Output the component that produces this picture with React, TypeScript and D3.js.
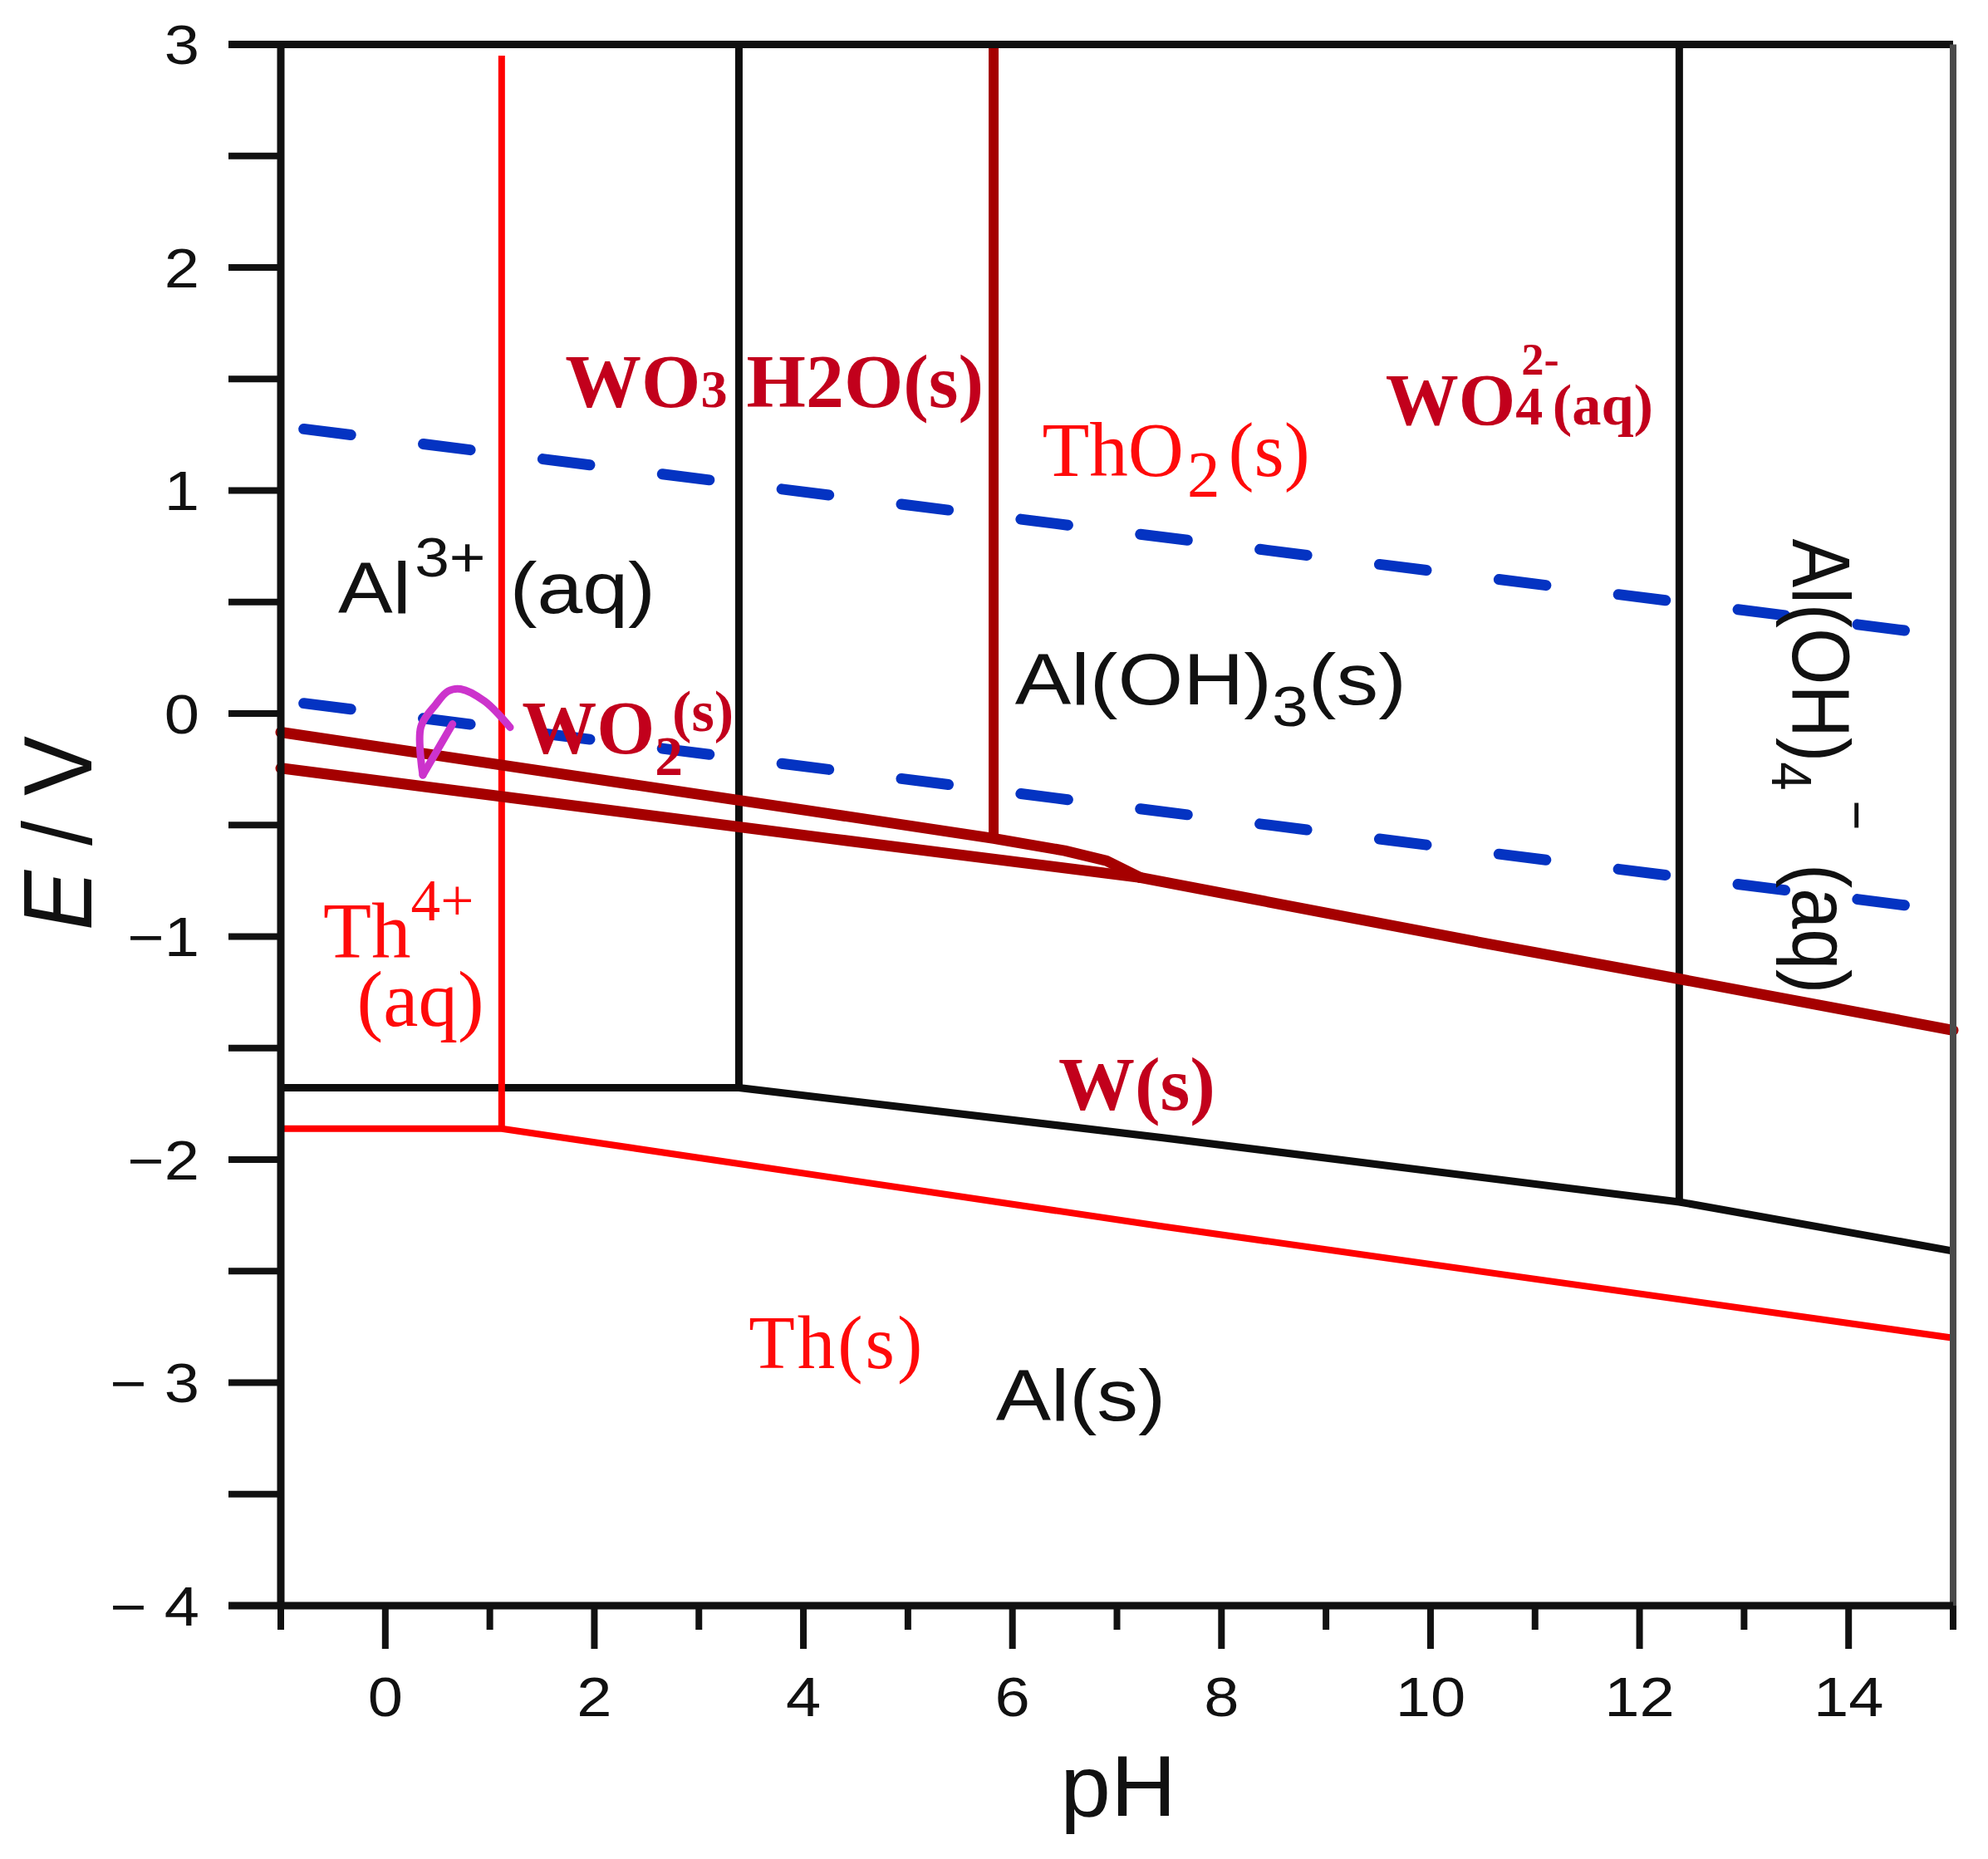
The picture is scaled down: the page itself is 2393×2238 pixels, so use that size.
import React from "react";
import * as d3 from "d3";

const WIDTH = 2393;
const HEIGHT = 2238;

type Pt = [number, number];

// ---------- axes ----------
const phDomain: [number, number] = [-1, 15];
const eDomain: [number, number] = [-4, 3];
const phMajorTicks = [0, 2, 4, 6, 8, 10, 12, 14];
const phTickLabels = ["0", "2", "4", "6", "8", "10", "12", "14"];
const phMinorTicks = [-1, 1, 3, 5, 7, 9, 11, 13, 15];
const eMajorTicks = [-4, -3, -2, -1, 0, 1, 2, 3];
const eTickLabels = ["\u2212 4", "\u2212 3", "\u22122", "\u22121", "0", "1", "2", "3"];
const eMinorTicks = [-3.5, -2.5, -1.5, -0.5, 0.5, 1.5, 2.5];

// ---------- water stability lines (blue dashed) ----------
const waterO2: Pt[] = [[-0.78, 1.276], [15, 0.345]];
const waterH2: Pt[] = [[-0.78, 0.046], [15, -0.887]];

// ---------- Al boundaries (black) ----------
const alAqToHydroxide: Pt[] = [[3.383, 3], [3.383, -1.678]];
const alHydroxideToAluminate: Pt[] = [[12.38, 3], [12.38, -2.19]];
const alMetalBoundary: Pt[] = [[-1, -1.678], [3.383, -1.678], [7.44, -1.902], [12.38, -2.19], [15, -2.41]];

// ---------- Th boundaries (red) ----------
const thAqToOxide: Pt[] = [[1.113, 2.95], [1.113, -1.861]];
const thMetalBoundary: Pt[] = [[-1, -1.861], [1.113, -1.861], [7.44, -2.3], [15, -2.8]];

// ---------- W boundaries (dark red) ----------
const wTrioxideToTungstate: Pt[] = [[5.82, 3], [5.82, -0.56]];
const wOxideUpper: Pt[] = [[-1, -0.084], [4.26, -0.45], [5.82, -0.56], [6.5, -0.615], [6.9, -0.66], [7.22, -0.735]];
const wOxideLower: Pt[] = [[-1, -0.245], [4.26, -0.561], [7.22, -0.735]];
const wMetalBoundary: Pt[] = [[7.22, -0.735], [10.63, -1.04], [12.38, -1.19], [15, -1.42]];

// ---------- hand-drawn magenta arrow ----------
const arrowStroke: Pt[] = [[1.194, -0.062], [0.95, 0.055], [0.72, 0.11], [0.6, 0.1], [0.484, 0.041], [0.34, -0.06], [0.359, -0.276]];
const arrowBarb: Pt[] = [[0.643, -0.047], [0.359, -0.276]];

// ---------- labels ----------
type Piece = { t: string; scale?: number; dy?: number; dx?: number; italic?: boolean };
type Label = {
  pH: number;
  E: number;
  pieces: Piece[];
  font: "sans" | "serif";
  size: number;
  bold?: boolean;
  color: string;
  sx?: number;
  rotate?: number;
  spacing?: number;
};

const DARK_RED_TEXT = "#c2001c";
const RED_TEXT = "#ff0a0a";
const BLACK_TEXT = "#111111";

const regionLabels: Label[] = [
  { pH: 1.721, E: 1.374, font: "serif", size: 90, bold: true, color: DARK_RED_TEXT, sx: 1.02,
    pieces: [{ t: "WO" }, { t: "3", scale: 0.7 }, { t: " H2O(s)" }] },
  { pH: 6.285, E: 1.064, font: "serif", size: 93, color: RED_TEXT,
    pieces: [{ t: "ThO" }, { t: "2", scale: 0.85, dy: 0.25, dx: 4 }, { t: "(s)", dy: 0, dx: 10 }] },
  { pH: 9.57, E: 1.297, font: "serif", size: 88, bold: true, color: DARK_RED_TEXT,
    pieces: [{ t: "WO" }, { t: "4", scale: 0.75 }, { t: "2-", scale: 0.62, dy: -0.68, dx: -26 }, { t: "(aq)", scale: 0.8, dy: 0, dx: -8 }] },
  { pH: 1.307, E: -0.177, font: "serif", size: 90, bold: true, color: DARK_RED_TEXT,
    pieces: [{ t: "WO" }, { t: "2", scale: 0.75, dy: 0.29 }, { t: "(s)", scale: 0.78, dy: -0.3, dx: -13 }] },
  { pH: -0.594, E: -1.094, font: "serif", size: 95, color: RED_TEXT,
    pieces: [{ t: "Th" }, { t: "4+", scale: 0.75, dy: -0.47 }] },
  { pH: -0.272, E: -1.4, font: "serif", size: 95, color: RED_TEXT,
    pieces: [{ t: "(aq)" }] },
  { pH: 6.439, E: -1.778, font: "serif", size: 92, bold: true, color: DARK_RED_TEXT,
    pieces: [{ t: "W(s)" }] },
  { pH: 3.476, E: -2.933, font: "serif", size: 91, color: RED_TEXT, spacing: 3,
    pieces: [{ t: "Th(s)" }] },
  { pH: -0.451, E: 0.451, font: "sans", size: 88, color: BLACK_TEXT, sx: 1.12,
    pieces: [{ t: "Al" }, { t: "3+", scale: 0.76, dy: -0.5, dx: 4 }, { t: "(aq)", dy: 0, dx: 26 }] },
  { pH: 6.025, E: 0.042, font: "sans", size: 88, color: BLACK_TEXT, sx: 1.15,
    pieces: [{ t: "Al(OH)" }, { t: "3", scale: 0.78, dy: 0.3 }, { t: "(s)", dy: 0 }] },
  { pH: 5.842, E: -3.168, font: "sans", size: 88, color: BLACK_TEXT, sx: 1.13,
    pieces: [{ t: "Al(s)" }] },
  { pH: 13.464, E: 0.784, font: "sans", size: 88, color: BLACK_TEXT, sx: 1.12, rotate: 90,
    pieces: [{ t: "Al(OH)" }, { t: "4", scale: 0.7, dy: 0.25 }, { t: "\u2212", scale: 0.7, dy: -0.55, dx: 12 }, { t: " (aq)", dy: 0, dx: 16 }] },
];

const SANS = "'Liberation Sans', Arial, Helvetica, sans-serif";
const SERIF = "'Liberation Serif', 'Times New Roman', serif";

function RichText({ x, y, label }: { x: number; y: number; label: Label }) {
  let cur = 0;
  const sx = label.sx ?? 1;
  const rot = label.rotate ?? 0;
  return (
    <text
      transform={`translate(${x},${y}) scale(${sx},1) rotate(${rot})`}
      fontFamily={label.font === "sans" ? SANS : SERIF}
      fontWeight={label.bold ? "bold" : "normal"}
      fontSize={label.size}
      fill={label.color}
      letterSpacing={label.spacing ?? 0}
      style={{ whiteSpace: "pre" }}
    >
      {label.pieces.map((p, i) => {
        const target = p.dy ?? cur;
        const d = (target - cur) * label.size;
        cur = target;
        return (
          <tspan key={i} dx={p.dx ?? 0} dy={d} fontSize={label.size * (p.scale ?? 1)} fontStyle={p.italic ? "italic" : undefined}>
            {p.t}
          </tspan>
        );
      })}
    </text>
  );
}

export default function App() {
  const x = d3.scaleLinear().domain(phDomain).range([338, 2351]);
  const y = d3.scaleLinear().domain(eDomain).range([1933, 53.5]);
  const line = d3.line<Pt>().x((d) => x(d[0])).y((d) => y(d[1]));
  const curve = d3
    .line<Pt>()
    .x((d) => x(d[0]))
    .y((d) => y(d[1]))
    .curve(d3.curveCatmullRom.alpha(0.5));

  const axisColor = "#111";
  const x0 = x(phDomain[0]);
  const x1 = x(phDomain[1]);
  const yTop = y(eDomain[1]);
  const yBot = y(eDomain[0]);
  const yTickLen = 63;

  return (
    <div style={{ position: "absolute", left: 0, top: 0, width: WIDTH, height: HEIGHT, background: "#fff" }}>
      <svg width={WIDTH} height={HEIGHT} viewBox={`0 0 ${WIDTH} ${HEIGHT}`}>
        <rect x={0} y={0} width={WIDTH} height={HEIGHT} fill="#fff" />

        {/* water lines */}
        {[waterO2, waterH2].map((d, i) => (
          <path key={"w" + i} d={line(d) ?? ""} fill="none" stroke="#0433c2" strokeWidth={13}
            strokeDasharray="57 88" strokeLinecap="round" />
        ))}

        {/* Al boundaries */}
        {[alAqToHydroxide, alHydroxideToAluminate, alMetalBoundary].map((d, i) => (
          <path key={"al" + i} d={line(d) ?? ""} fill="none" stroke="#0d0d0d" strokeWidth={9} strokeLinejoin="round" />
        ))}

        {/* Th boundaries */}
        {[thAqToOxide, thMetalBoundary].map((d, i) => (
          <path key={"th" + i} d={line(d) ?? ""} fill="none" stroke="#ff0000" strokeWidth={8} strokeLinejoin="miter" />
        ))}

        {/* W boundaries */}
        <path d={line(wTrioxideToTungstate) ?? ""} fill="none" stroke="#a50000" strokeWidth={12} />
        {[wOxideUpper, wOxideLower, wMetalBoundary].map((d, i) => (
          <path key={"wb" + i} d={line(d) ?? ""} fill="none" stroke="#a50000" strokeWidth={13} strokeLinecap="round" strokeLinejoin="round" />
        ))}

        {/* magenta arrow */}
        <path d={curve(arrowStroke) ?? ""} fill="none" stroke="#cc33cc" strokeWidth={9} strokeLinecap="round" strokeLinejoin="round" />
        <path d={line(arrowBarb) ?? ""} fill="none" stroke="#cc33cc" strokeWidth={9} strokeLinecap="round" />

        {/* frame */}
        <line x1={x0 - yTickLen} x2={x1} y1={yTop} y2={yTop} stroke={axisColor} strokeWidth={9} />
        <line x1={x1} x2={x1} y1={yTop} y2={yBot} stroke="#4a4a4a" strokeWidth={8} />
        <line x1={x0} x2={x0} y1={yTop} y2={yBot} stroke={axisColor} strokeWidth={9} />
        <line x1={x0 - yTickLen} x2={x1} y1={yBot} y2={yBot} stroke={axisColor} strokeWidth={9} />

        {/* y ticks */}
        {eMajorTicks.map((t) => (
          <line key={"ey" + t} x1={x0 - yTickLen} x2={x0} y1={y(t)} y2={y(t)} stroke={axisColor} strokeWidth={8} />
        ))}
        {eMinorTicks.map((t) => (
          <line key={"eym" + t} x1={x0 - yTickLen} x2={x0} y1={y(t)} y2={y(t)} stroke={axisColor} strokeWidth={8} />
        ))}
        {eMajorTicks.map((t, i) => (
          <text key={"eyl" + t} transform={`translate(240,${y(t) + 23.5}) scale(1.15,1)`} textAnchor="end"
            fontFamily={SANS} fontSize={66} fill="#111" style={{ whiteSpace: "pre" }}>
            {eTickLabels[i]}
          </text>
        ))}

        {/* x ticks */}
        {phMajorTicks.map((t) => (
          <line key={"px" + t} x1={x(t)} x2={x(t)} y1={yBot} y2={yBot + 52} stroke={axisColor} strokeWidth={8} />
        ))}
        {phMinorTicks.map((t) => (
          <line key={"pxm" + t} x1={x(t)} x2={x(t)} y1={yBot} y2={yBot + 29} stroke={axisColor} strokeWidth={8} />
        ))}
        {phMajorTicks.map((t, i) => (
          <text key={"pxl" + t} transform={`translate(${x(t)},2066) scale(1.15,1)`} textAnchor="middle"
            fontFamily={SANS} fontSize={66} fill="#111">
            {phTickLabels[i]}
          </text>
        ))}

        {/* axis titles */}
        <text transform={`translate(1346,2186) scale(1.05,1)`} textAnchor="middle" fontFamily={SANS} fontSize={104} fill="#111">
          pH
        </text>
        <text transform={`translate(110,1003) scale(1.08,1) rotate(-90)`} textAnchor="middle" fontFamily={SANS} fontSize={108}
          fill="#111" style={{ whiteSpace: "pre" }}>
          <tspan fontStyle="italic">E</tspan>
          <tspan>{" / V"}</tspan>
        </text>

        {/* region labels */}
        {regionLabels.map((l, i) => (
          <RichText key={"lab" + i} x={x(l.pH)} y={y(l.E)} label={l} />
        ))}
      </svg>
    </div>
  );
}
